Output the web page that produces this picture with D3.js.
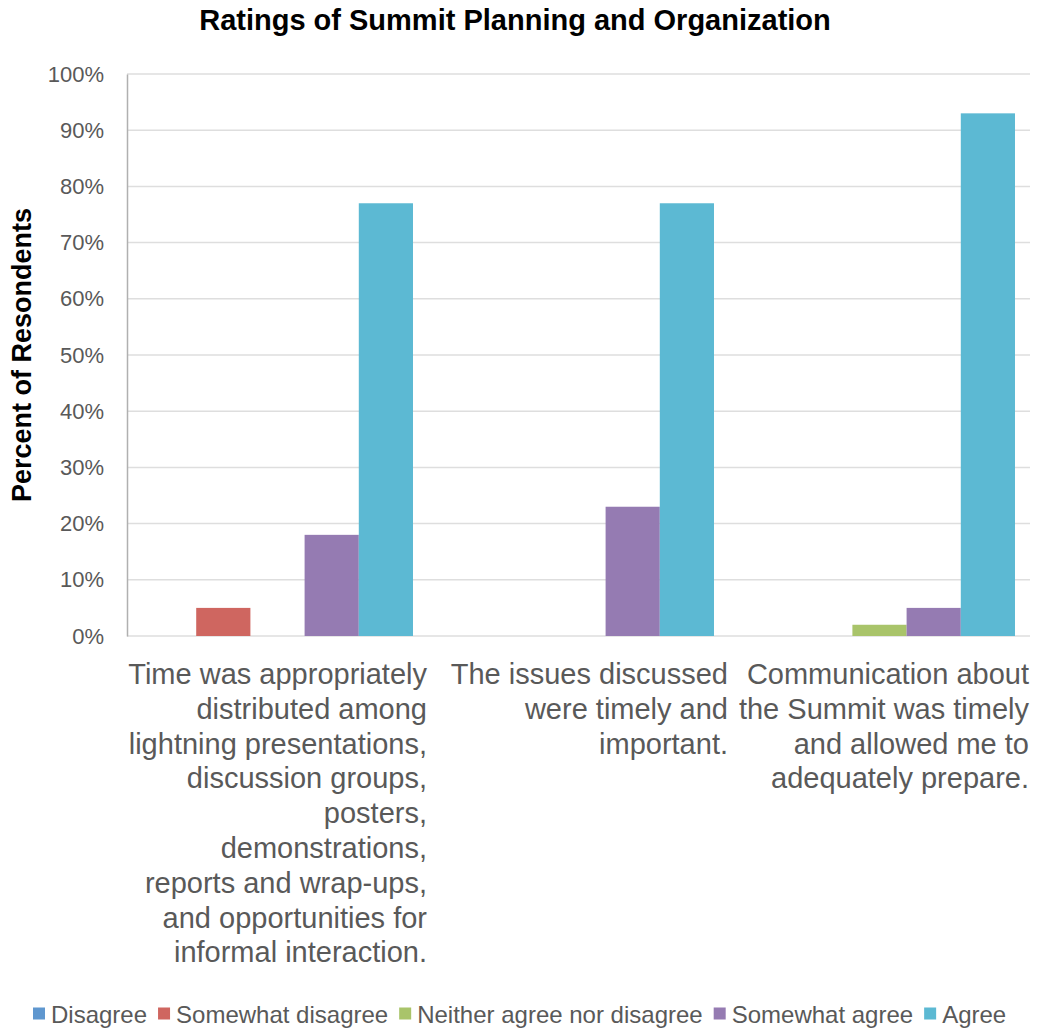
<!DOCTYPE html>
<html>
<head>
<meta charset="utf-8">
<script src="https://cdn.jsdelivr.net/npm/d3@7"></script>
<style>
  html, body { margin: 0; padding: 0; background: #fff; }
  svg { display: block; font-family: "Liberation Sans", Arial, sans-serif; }
</style>
</head>
<body>
<svg id="chart" width="1037" height="1030"></svg>
<script>
const categories = [
  "Time was appropriately distributed among lightning presentations, discussion groups, posters, demonstrations, reports and wrap-ups, and opportunities for informal interaction.",
  "The issues discussed were timely and important.",
  "Communication about the Summit was timely and allowed me to adequately prepare."
];
const categoryLines = [
  ["Time was appropriately", "distributed among", "lightning presentations,", "discussion groups,", "posters,", "demonstrations,", "reports and wrap-ups,", "and opportunities for", "informal interaction."],
  ["The issues discussed", "were timely and", "important."],
  ["Communication about", "the Summit was timely", "and allowed me to", "adequately prepare."]
];
const seriesNames = ["Disagree", "Somewhat disagree", "Neither agree nor disagree", "Somewhat agree", "Agree"];
const seriesColors = ["#5F97CF", "#CF6660", "#A9C46A", "#957BB2", "#5CB9D3"];
const disagree = [0, 0, 0];
const somewhatDisagree = [5, 0, 0];
const neither = [0, 0, 2];
const somewhatAgree = [18, 23, 5];
const agree = [77, 77, 93];
const seriesValues = [disagree, somewhatDisagree, neither, somewhatAgree, agree];
const yTicks = [0, 10, 20, 30, 40, 50, 60, 70, 80, 90, 100];

(function () {
const svg = d3.select("#chart");
const pLeft = 127, pRight = 1030, pTop = 74, pBottom = 636;

const x0 = d3.scaleBand().domain(d3.range(categories.length)).range([pLeft, pRight]).paddingInner(0).paddingOuter(0);
const x1 = d3.scaleBand().domain(d3.range(seriesNames.length)).range([0, x0.bandwidth()]).paddingInner(0).paddingOuter(0.277);
const y = d3.scaleLinear().domain([0, 100]).range([pBottom, pTop]);

svg.append("g").selectAll("line").data(yTicks).join("line")
  .attr("x1", pLeft).attr("x2", pRight)
  .attr("y1", d => y(d)).attr("y2", d => y(d))
  .attr("stroke", "#dedede").attr("stroke-width", 1.5);

const yAxis = svg.append("g").attr("transform", `translate(${pLeft},0)`)
  .call(d3.axisLeft(y).tickValues(yTicks).tickFormat(d => d + "%").tickSize(0).tickPadding(23));
yAxis.select(".domain").attr("stroke", "#b0b0b0").attr("stroke-width", 1.5);
yAxis.selectAll("text").attr("font-size", 22).attr("fill", "#595959").attr("font-family", "Liberation Sans, Arial, sans-serif");

const groups = svg.append("g").selectAll("g").data(categories).join("g")
  .attr("transform", (d, i) => `translate(${x0(i)},0)`);
groups.selectAll("rect")
  .data((d, i) => seriesValues.map((vals, s) => ({ s, v: vals[i] })))
  .join("rect")
  .attr("x", d => x1(d.s))
  .attr("width", x1.bandwidth())
  .attr("y", d => y(d.v))
  .attr("height", d => pBottom - y(d.v))
  .attr("fill", d => seriesColors[d.s]);

categoryLines.forEach((lines, i) => {
  const t = svg.append("text")
    .attr("text-anchor", "end")
    .attr("font-size", 29)
    .attr("fill", "#595959");
  lines.forEach((ln, k) => {
    t.append("tspan").attr("x", x0(i) + x0.bandwidth() - 1).attr("y", 684 + k * 34.8).text(ln);
  });
});

svg.append("text").attr("x", 515).attr("y", 30).attr("text-anchor", "middle")
  .attr("font-size", 29).attr("font-weight", "bold").attr("fill", "#000")
  .text("Ratings of Summit Planning and Organization");

svg.append("text").attr("transform", "translate(31,355) rotate(-90)")
  .attr("text-anchor", "middle").attr("font-size", 27).attr("font-weight", "bold").attr("fill", "#000")
  .text("Percent of Resondents");

const legend = svg.append("g");
let lx = 33;
seriesNames.forEach((name, i) => {
  legend.append("rect").attr("x", lx).attr("y", 1007.5).attr("width", 12).attr("height", 12).attr("fill", seriesColors[i]);
  const tx = legend.append("text").attr("x", lx + 18).attr("y", 1023)
    .attr("font-size", 24).attr("fill", "#595959").text(name);
  const w = tx.node().getComputedTextLength();
  lx = lx + 18 + w + 11;
});
})();
</script>
</body>
</html>
